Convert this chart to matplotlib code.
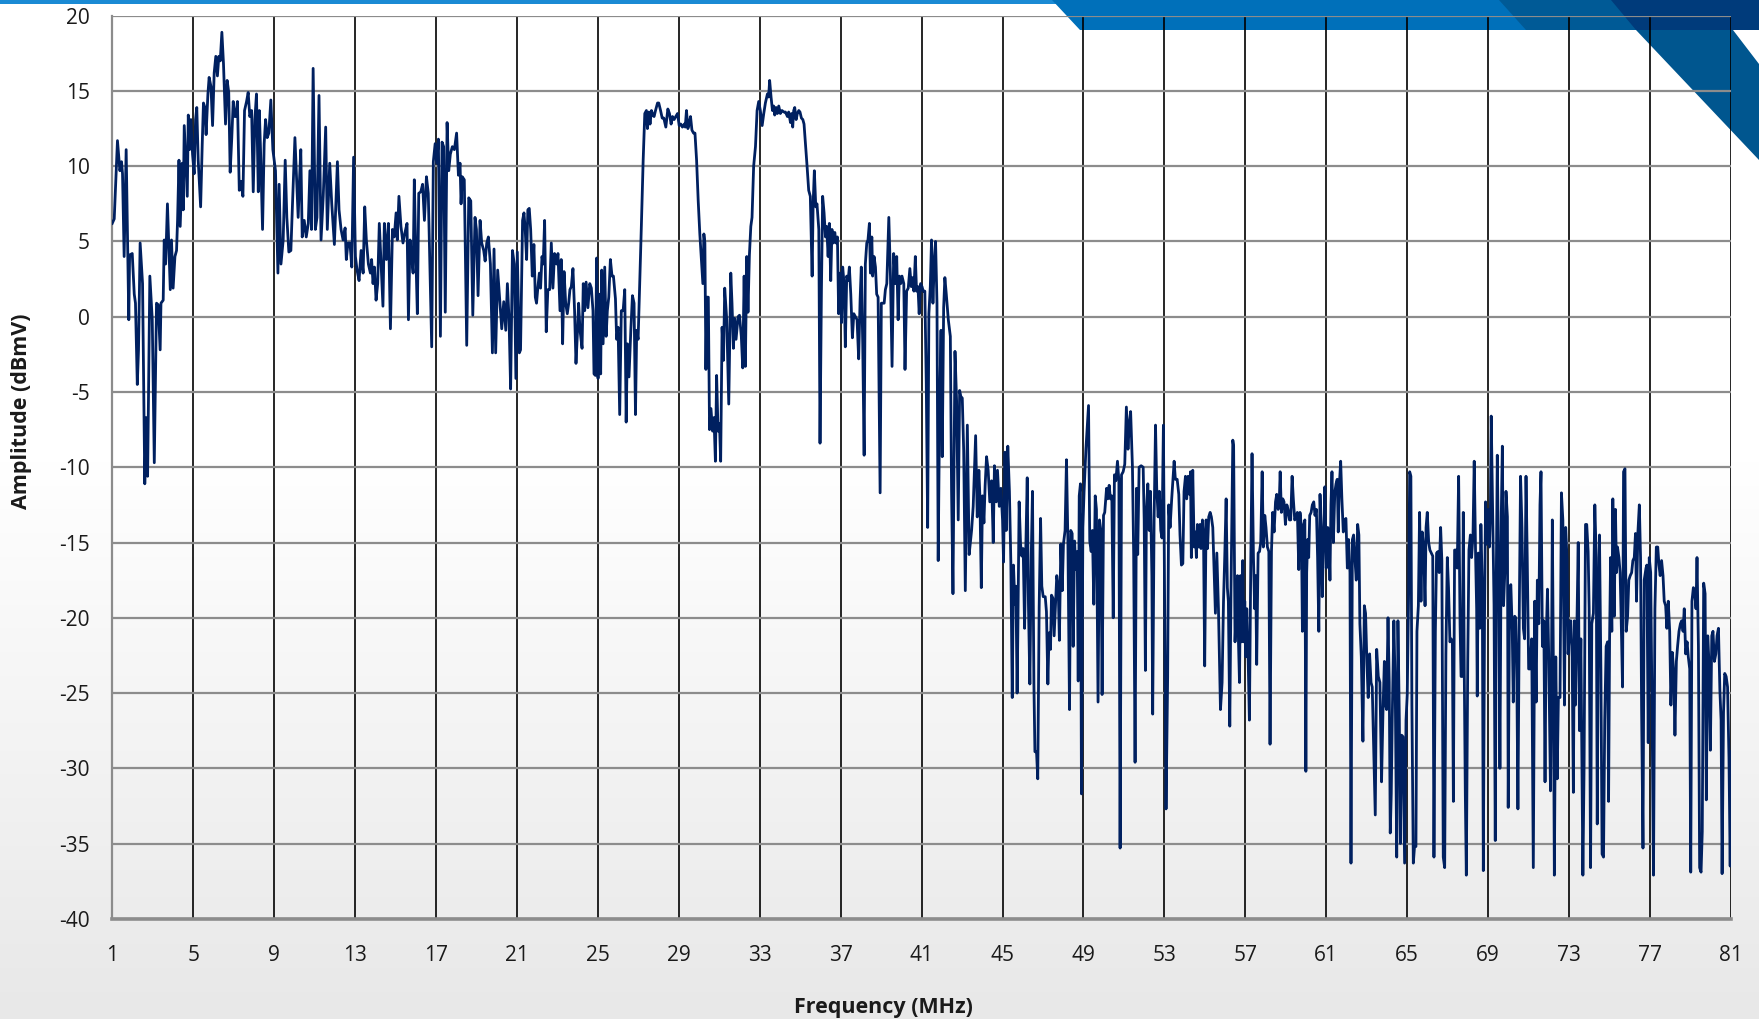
import numpy as np
import matplotlib
matplotlib.use("Agg")
import matplotlib.pyplot as plt
from matplotlib.patches import Polygon
from matplotlib.colors import LinearSegmentedColormap

plt.rcParams['font.family'] = ['Open Sans', 'DejaVu Sans']
plt.rcParams['axes.unicode_minus'] = False

# spectrum, (MHz, dBmV), one list per stretch of the band
seg_01_11 = [
    (1.0, 6.2), (1.1, 6.5), (1.26, 11.7), (1.38, 9.7), (1.46, 10.3), (1.51, 9.5), (1.59, 4.0), (1.69, 11.1),
    (1.82, -0.2), (1.86, 4.1), (1.99, 4.2), (2.09, 1.5), (2.15, 0.9), (2.24, -4.5), (2.30, -2.2), (2.38, 4.9),
    (2.50, 2.2), (2.61, -11.1), (2.68, -6.7), (2.75, -10.6), (2.86, 2.7), (2.98, -0.2), (3.08, -9.7), (3.19, 0.9),
    (3.27, 0.8), (3.37, -2.2), (3.41, 0.9), (3.52, 1.1), (3.57, 5.1), (3.64, 3.5), (3.73, 7.5), (3.87, 1.8),
    (3.93, 5.1), (4.01, 1.9), (4.10, 4.0), (4.18, 4.4), (4.23, 6.4), (4.30, 10.4), (4.36, 6.0), (4.46, 10.2),
    (4.51, 7.1), (4.56, 12.7), (4.64, 10.2), (4.71, 8.0), (4.76, 13.4), (4.82, 11.1), (4.89, 13.1), (4.97, 10.8),
    (5.05, 9.5), (5.12, 13.1), (5.18, 13.9), (5.25, 10.4), (5.37, 7.3), (5.45, 11.5), (5.51, 14.2), (5.58, 13.9),
    (5.64, 12.1), (5.73, 14.8), (5.79, 15.9), (5.88, 15.3), (5.96, 12.7), (6.04, 16.2), (6.12, 17.3), (6.20, 16.0),
    (6.27, 17.3), (6.34, 17.0), (6.42, 18.9), (6.50, 16.8), (6.60, 12.8), (6.68, 15.7), (6.76, 14.9), (6.83, 9.6),
    (6.91, 11.9), (6.98, 14.3), (7.05, 13.3), (7.11, 13.3), (7.19, 14.3), (7.28, 8.4), (7.36, 9.0), (7.46, 8.0),
    (7.54, 13.7), (7.64, 14.3), (7.72, 14.9), (7.80, 13.3), (7.89, 13.7), (7.97, 8.3), (8.05, 13.1), (8.13, 14.8),
    (8.22, 8.3), (8.27, 13.7), (8.33, 11.1), (8.43, 5.8), (8.51, 11.5), (8.58, 13.1), (8.66, 11.9), (8.74, 12.2),
    (8.84, 14.4), (8.94, 11.1), (9.07, 9.7), (9.19, 2.9), (9.25, 8.8), (9.34, 3.5), (9.45, 5.1), (9.55, 10.4),
    (9.63, 6.6), (9.73, 4.3), (9.83, 4.4), (9.91, 7.5), (10.03, 11.9), (10.11, 9.3), (10.19, 6.6), (10.26, 9.2),
    (10.32, 11.1), (10.39, 5.3), (10.49, 6.4), (10.59, 5.3), (10.69, 6.2), (10.77, 9.7), (10.85, 5.8), (10.93, 16.5),
]
seg_11_21 = [
    (11.04, 5.8), (11.12, 6.6), (11.22, 14.7), (11.32, 5.1), (11.43, 8.0), (11.55, 12.6), (11.63, 5.8), (11.75, 10.2),
    (11.85, 7.5), (11.98, 4.8), (12.13, 10.3), (12.21, 7.1), (12.31, 5.8), (12.41, 5.1), (12.51, 5.9), (12.57, 3.8),
    (12.65, 4.9), (12.75, 4.9), (12.84, 3.3), (12.93, 10.6), (13.02, 4.0), (13.10, 3.1), (13.20, 2.4), (13.30, 4.4),
    (13.40, 2.9), (13.48, 7.3), (13.56, 5.1), (13.66, 3.5), (13.76, 2.9), (13.82, 3.8), (13.89, 2.2), (13.96, 3.3),
    (14.04, 1.1), (14.12, 2.2), (14.20, 6.2), (14.29, 3.5), (14.38, 0.7), (14.45, 6.2), (14.55, 3.8), (14.65, 6.2),
    (14.75, -0.8), (14.85, 5.8), (14.94, 5.3), (15.03, 6.9), (15.09, 5.1), (15.17, 8.0), (15.27, 6.0), (15.37, 4.9),
    (15.47, 5.6), (15.57, 6.2), (15.64, -0.2), (15.72, 5.1), (15.80, 4.0), (15.87, 2.9), (15.93, 9.1), (16.00, 4.4),
    (16.08, 0.2), (16.15, 8.2), (16.25, 8.3), (16.34, 8.8), (16.43, 6.4), (16.53, 9.3), (16.62, 8.2), (16.71, 2.7),
    (16.79, -2.0), (16.87, 10.3), (16.96, 11.5), (17.04, 10.2), (17.12, 11.8), (17.22, -1.3), (17.30, 11.6),
    (17.38, 11.3), (17.46, 0.3), (17.55, 12.9), (17.63, 9.7), (17.71, 10.8), (17.81, 11.3), (17.91, 11.1),
    (18.02, 12.2), (18.11, 9.4), (18.19, 10.2), (18.24, 7.5), (18.30, 9.3), (18.40, 9.1), (18.52, -1.9), (18.62, 7.9),
    (18.72, 7.7), (18.82, 0.1), (18.93, 6.6), (19.00, 5.8), (19.08, 1.4), (19.18, 6.4), (19.26, 4.9), (19.36, 4.4),
    (19.43, 3.7), (19.51, 4.9), (19.59, 5.3), (19.69, 3.5), (19.79, -2.4), (19.87, 4.5), (19.95, -2.4), (20.05, 3.1),
    (20.15, 1.1), (20.25, -0.8), (20.35, 1.0), (20.45, -0.9), (20.53, 2.2), (20.61, -0.1), (20.69, -4.8),
    (20.78, 4.4), (20.87, 3.5),
]
seg_21_31 = [
    (20.95, -4.1), (21.02, 4.3), (21.12, -2.4), (21.18, -2.2), (21.28, 6.4), (21.35, 6.9), (21.41, 5.8), (21.48, 3.8),
    (21.54, 7.1), (21.61, 7.2), (21.68, 5.8), (21.76, 2.7), (21.84, 4.8), (21.91, 1.3), (21.97, 0.9), (22.04, 2.0),
    (22.11, 2.9), (22.17, 1.9), (22.24, 4.0), (22.30, 3.5), (22.37, 6.4), (22.45, -1.0), (22.53, 1.8), (22.62, 1.8),
    (22.70, 4.9), (22.78, 1.9), (22.86, 4.2), (22.96, 3.5), (23.03, 4.2), (23.13, 0.4), (23.19, 3.8), (23.26, -1.8),
    (23.33, 3.0), (23.41, 0.9), (23.49, 0.2), (23.56, 0.9), (23.62, 1.8), (23.69, 2.0), (23.77, 3.2), (23.85, 0.4),
    (23.92, -3.1), (23.99, -1.1), (24.05, 0.9), (24.12, -0.9), (24.22, -2.1), (24.28, 2.2), (24.35, 0.4), (24.42, 2.3),
    (24.51, 0.6), (24.60, 2.2), (24.68, 1.9), (24.76, 0.4), (24.81, -3.8), (24.88, -3.9), (24.94, 3.9), (25.01, -4.1),
    (25.08, 1.5), (25.14, -3.8), (25.19, 3.1), (25.26, -1.8), (25.34, 3.3), (25.41, -1.3), (25.47, 0.4), (25.54, 1.3),
    (25.62, 3.8), (25.70, 2.7), (25.77, 2.7), (25.87, 1.2), (25.93, -1.5), (26.00, -0.7), (26.08, -6.5), (26.16, 0.4),
    (26.25, 0.4), (26.33, 1.8), (26.40, -7.0), (26.46, -1.8), (26.54, -4.0), (26.63, -0.9), (26.71, 1.4), (26.79, 0.9),
    (26.86, -6.5), (26.92, -0.9), (26.99, -1.5), (27.07, 2.2), (27.15, 6.0), (27.24, 10.4), (27.32, 13.5),
    (27.40, 13.7), (27.45, 12.5), (27.52, 13.6), (27.58, 12.8), (27.65, 13.7), (27.72, 13.4), (27.78, 13.3),
    (27.85, 13.7), (27.95, 14.2), (28.01, 14.2), (28.10, 13.7), (28.18, 13.2), (28.26, 13.2), (28.36, 12.6),
    (28.46, 13.8), (28.54, 13.5), (28.62, 12.8), (28.69, 13.3), (28.77, 13.1), (28.85, 13.3), (28.94, 13.5),
    (29.02, 12.7), (29.10, 12.8), (29.18, 12.6), (29.27, 12.8), (29.32, 12.6), (29.38, 13.7), (29.45, 12.5),
    (29.51, 12.8), (29.58, 13.3), (29.65, 12.4), (29.73, 12.2), (29.80, 12.2), (29.88, 10.4), (29.96, 7.7),
    (30.04, 5.5), (30.13, 3.5), (30.19, 2.2), (30.24, 5.5), (30.29, 4.9), (30.34, -3.5), (30.39, 1.3), (30.46, 1.3),
    (30.52, -7.5), (30.59, -6.1), (30.67, -7.6), (30.74, -6.7),
]
seg_31_40 = [
    (30.81, -9.6), (30.87, -3.9), (30.94, -7.6), (31.01, -7.1), (31.07, -9.6), (31.14, -0.7), (31.21, -2.9),
    (31.27, 1.9), (31.37, -0.2), (31.47, -5.8), (31.57, 2.9), (31.63, 0.9), (31.70, -2.1), (31.76, -0.1),
    (31.83, -1.5), (31.93, 0.0), (32.00, 0.1), (32.09, -1.3), (32.16, -3.4), (32.23, 2.7), (32.29, -3.3),
    (32.36, 4.0), (32.42, 0.3), (32.49, 4.1), (32.56, 6.0), (32.62, 6.6), (32.70, 10.0), (32.79, 11.3),
    (32.87, 13.7), (32.95, 14.3), (33.03, 13.7), (33.12, 12.7), (33.20, 13.5), (33.28, 14.2), (33.38, 14.8),
    (33.44, 14.6), (33.49, 15.7), (33.56, 14.6), (33.63, 13.7), (33.69, 14.0), (33.74, 13.4), (33.81, 13.9),
    (33.87, 13.5), (33.94, 14.0), (34.02, 13.5), (34.10, 13.7), (34.19, 13.6), (34.27, 13.6), (34.37, 13.3),
    (34.43, 13.6), (34.52, 12.9), (34.57, 13.5), (34.63, 12.6), (34.68, 13.7), (34.73, 13.9), (34.80, 13.1),
    (34.86, 13.5), (34.93, 13.7), (34.99, 13.6), (35.06, 13.2), (35.13, 13.1), (35.19, 12.8), (35.26, 11.5),
    (35.34, 10.0), (35.42, 8.4), (35.50, 8.0), (35.59, 2.7), (35.64, 7.5), (35.70, 9.7), (35.77, 7.3),
    (35.83, 7.5), (35.92, 5.8), (35.98, -8.4), (36.05, 1.8), (36.11, 8.0), (36.18, 6.9), (36.25, 5.3),
    (36.31, 6.0), (36.38, 4.0), (36.44, 6.2), (36.51, 2.4), (36.57, 5.8), (36.64, 4.9), (36.71, 5.6),
    (36.77, 4.9), (36.84, 5.3), (36.90, 0.2), (36.97, 2.9), (37.04, -0.4), (37.10, 3.3), (37.17, 2.2),
    (37.23, -2.0), (37.30, 2.7), (37.37, 2.4), (37.43, 3.3), (37.50, 1.5), (37.58, -1.4), (37.65, 0.2),
    (37.73, 0.0), (37.81, -0.2), (37.89, -2.8), (37.96, 1.1), (38.02, 3.3), (38.09, -1.8), (38.16, -9.2),
    (38.22, 3.5), (38.29, 4.9), (38.35, 5.1), (38.42, 6.2), (38.47, 2.9), (38.54, 5.3), (38.58, 2.7),
    (38.65, 4.0), (38.72, 3.3), (38.78, 1.5), (38.85, 1.3), (38.95, -11.7), (39.01, 0.9), (39.08, 0.9),
    (39.15, 0.9), (39.21, 1.8), (39.28, 2.2), (39.38, 6.6), (39.46, 2.7), (39.54, -3.3), (39.62, 4.2),
    (39.71, 2.2), (39.77, 4.0), (39.84, -0.2), (39.90, 2.7), (39.97, 2.2), (40.03, 2.7), (40.12, 2.2),
]
seg_40_43 = [
    (40.18, -3.5), (40.26, 1.7), (40.34, 1.9), (40.42, 3.2), (40.49, 2.0), (40.56, 2.6), (40.62, 1.7), (40.69, 4.0),
    (40.75, 1.7), (40.82, 2.0), (40.88, 0.2), (40.95, 2.2), (41.02, 2.0), (41.08, 1.7), (41.16, 1.7), (41.23, -4.4),
    (41.30, -14.0), (41.36, 0.2), (41.43, 2.0), (41.49, 5.1), (41.56, 0.9), (41.63, 3.7), (41.69, 5.0), (41.76, 0.9),
    (41.82, -16.2), (41.89, -6.0), (41.96, -0.9), (42.02, -9.3), (42.09, 0.6), (42.15, 2.6), (42.22, 1.5),
    (42.32, -0.2), (42.42, -1.3), (42.48, -11.5), (42.55, -18.4), (42.65, -2.3), (42.73, -5.6), (42.81, -13.5),
    (42.88, -4.9), (42.94, -5.3), (43.01, -5.4), (43.08, -8.9), (43.16, -18.2),
]
seg_43_53 = [
    (43.26, -7.2), (43.35, -15.8), (43.47, -14.2), (43.55, -12.6), (43.67, -7.9), (43.75, -13.3), (43.83, -10.2),
    (43.88, -11.9), (43.95, -18.0), (44.01, -11.9), (44.08, -13.7), (44.14, -11.2), (44.21, -9.3), (44.29, -10.2),
    (44.37, -12.3), (44.46, -10.9), (44.54, -15.0), (44.60, -9.9), (44.69, -12.3), (44.75, -10.2), (44.84, -12.6),
    (44.92, -11.4), (45.00, -13.5), (45.05, -16.3), (45.12, -9.0), (45.18, -14.2), (45.26, -8.6), (45.34, -11.6),
    (45.41, -16.3), (45.48, -25.3), (45.54, -16.5), (45.61, -19.1), (45.66, -17.9), (45.72, -25.0), (45.76, -20.5),
    (45.82, -12.3), (45.89, -15.1), (45.95, -15.9), (46.02, -15.4), (46.09, -20.7), (46.15, -15.4), (46.22, -10.7),
    (46.28, -19.1), (46.35, -24.4), (46.42, -15.8), (46.48, -11.6), (46.55, -24.4), (46.60, -28.9), (46.68, -28.9),
    (46.74, -30.7), (46.81, -19.3), (46.88, -13.4), (46.94, -17.9), (47.01, -18.6), (47.11, -18.6), (47.17, -19.6),
    (47.24, -24.4), (47.30, -21.0), (47.37, -22.1), (47.42, -18.5), (47.49, -18.7), (47.55, -21.2), (47.62, -19.1),
    (47.68, -17.2), (47.75, -17.9), (47.81, -21.5), (47.88, -15.1), (47.95, -18.2), (48.01, -15.1), (48.09, -14.2),
    (48.16, -9.5), (48.23, -14.9), (48.31, -26.1), (48.37, -14.2), (48.44, -14.4), (48.49, -21.9), (48.56, -14.9),
    (48.62, -16.8), (48.69, -15.6), (48.74, -24.2), (48.79, -11.9), (48.85, -11.1), (48.90, -31.7), (48.97, -14.0),
    (49.03, -11.6), (49.12, -8.8), (49.25, -5.9), (49.31, -14.9), (49.38, -15.6), (49.44, -14.2), (49.51, -19.1),
    (49.58, -11.9), (49.64, -12.8), (49.72, -25.6), (49.79, -13.5), (49.86, -14.2), (49.92, -25.1), (49.99, -13.2),
    (50.05, -13.0), (50.14, -11.4), (50.20, -12.1), (50.27, -11.2), (50.33, -12.1), (50.40, -11.9), (50.47, -20.0),
    (50.53, -10.5), (50.60, -10.9), (50.68, -9.6), (50.75, -10.9), (50.81, -35.3), (50.88, -10.5), (50.96, -10.3),
    (51.04, -9.8), (51.12, -6.0), (51.20, -8.8), (51.27, -7.0), (51.33, -6.3), (51.42, -10.0), (51.48, -15.8),
    (51.55, -29.6), (51.62, -11.4), (51.68, -15.8), (51.75, -10.0), (51.85, -9.9), (51.95, -10.0), (52.00, -13.5),
    (52.06, -23.5), (52.11, -13.0), (52.18, -11.1), (52.25, -14.2), (52.31, -11.6), (52.38, -17.2), (52.42, -26.4),
    (52.49, -13.5), (52.56, -7.2), (52.62, -11.4), (52.69, -13.3), (52.75, -11.6), (52.82, -14.2), (52.88, -14.7),
    (52.95, -7.2),
]
seg_53_61 = [
    (53.08, -32.7), (53.16, -23.9), (53.21, -12.5), (53.28, -14.0), (53.36, -12.1), (53.48, -9.6), (53.54, -10.8),
    (53.63, -10.8), (53.71, -11.8), (53.77, -14.5), (53.84, -16.5), (53.91, -16.4), (53.97, -11.6), (54.04, -10.6),
    (54.10, -12.1), (54.17, -10.6), (54.24, -11.8), (54.29, -10.3), (54.33, -16.0), (54.40, -10.2), (54.47, -15.3),
    (54.53, -14.3), (54.58, -16.0), (54.63, -13.8), (54.70, -15.3), (54.76, -13.8), (54.81, -15.4), (54.88, -13.5),
    (54.93, -14.3), (54.99, -23.2), (55.06, -13.5), (55.13, -15.4), (55.19, -13.3), (55.26, -13.0), (55.32, -13.3),
    (55.39, -14.0), (55.45, -16.7), (55.52, -19.7), (55.59, -15.7), (55.67, -19.4), (55.77, -26.1), (55.85, -24.3),
    (55.92, -18.9), (55.98, -16.0), (56.05, -12.1), (56.11, -18.0), (56.16, -18.9), (56.23, -27.2), (56.29, -18.2),
    (56.38, -8.2), (56.42, -8.6), (56.49, -21.6), (56.56, -18.9), (56.61, -17.2), (56.66, -21.6), (56.71, -24.3),
    (56.76, -17.2), (56.81, -21.6), (56.87, -16.2), (56.92, -21.6), (56.97, -18.9), (57.02, -22.6), (57.07, -19.4),
    (57.14, -22.9), (57.20, -26.8), (57.27, -16.0), (57.33, -9.1), (57.40, -16.0), (57.46, -19.4), (57.51, -17.2),
    (57.56, -23.1), (57.63, -15.7), (57.70, -15.6), (57.76, -15.0), (57.83, -10.3), (57.89, -15.3), (57.96, -13.2),
    (58.02, -14.0), (58.09, -15.3), (58.16, -15.6), (58.22, -28.4), (58.29, -15.6), (58.35, -13.0), (58.42, -14.3),
    (58.49, -12.3), (58.55, -11.8), (58.62, -12.8), (58.67, -12.5), (58.72, -10.3), (58.78, -13.0), (58.85, -12.1),
    (58.91, -12.3), (58.98, -13.8), (59.05, -12.5), (59.11, -12.8), (59.18, -13.5), (59.24, -13.5), (59.31, -10.6),
    (59.37, -12.1), (59.44, -13.5), (59.51, -13.3), (59.57, -13.0), (59.64, -16.8), (59.70, -13.0), (59.77, -14.0),
    (59.82, -20.9), (59.89, -13.8), (59.94, -13.5), (59.99, -30.2), (60.03, -17.0), (60.08, -14.8), (60.13, -16.0),
    (60.18, -13.2), (60.25, -13.0), (60.31, -12.5), (60.38, -12.3), (60.44, -13.2), (60.51, -12.8), (60.57, -16.0),
    (60.63, -20.9), (60.69, -11.8),
]
seg_61_71 = [
    (60.74, -14.0), (60.80, -18.6), (60.87, -14.3), (60.93, -11.3), (61.00, -16.7), (61.07, -14.0), (61.13, -14.5),
    (61.18, -17.5), (61.23, -12.5), (61.28, -10.3), (61.35, -15.0), (61.42, -11.7), (61.48, -11.1), (61.54, -10.8),
    (61.59, -14.3), (61.64, -11.3), (61.71, -9.6), (61.77, -12.1), (61.84, -14.3), (61.91, -13.5), (61.97, -13.4),
    (62.04, -16.7), (62.10, -14.8), (62.17, -17.0), (62.22, -36.3), (62.29, -14.8), (62.35, -14.5), (62.42, -16.2),
    (62.48, -17.5), (62.55, -13.8), (62.61, -14.5), (62.66, -20.4), (62.73, -22.6), (62.81, -28.2), (62.88, -19.2),
    (62.94, -19.7), (63.01, -23.1), (63.07, -25.3), (63.14, -22.4), (63.21, -24.3), (63.27, -24.6), (63.34, -28.5),
    (63.42, -33.1), (63.49, -22.1), (63.57, -23.9), (63.65, -24.3), (63.73, -30.9), (63.80, -26.3), (63.87, -22.9),
    (63.93, -25.8), (63.98, -26.1), (64.05, -20.0), (64.11, -24.3), (64.16, -34.3), (64.21, -31.7), (64.26, -26.6),
    (64.34, -20.2), (64.41, -25.1), (64.48, -35.9), (64.54, -20.2), (64.61, -26.8), (64.66, -35.0), (64.72, -27.8),
    (64.79, -27.9), (64.87, -36.3), (64.94, -26.8), (65.00, -25.1), (65.07, -18.2), (65.12, -10.3), (65.18, -10.6),
    (65.23, -25.8), (65.30, -36.3), (65.36, -35.2), (65.43, -35.2), (65.48, -20.9), (65.55, -19.2), (65.61, -13.0),
    (65.68, -18.9), (65.74, -14.3), (65.81, -15.3), (65.88, -19.2), (65.93, -14.0), (65.99, -13.0), (66.06, -15.0),
    (66.12, -15.5), (66.19, -15.7), (66.26, -15.9), (66.32, -35.9), (66.39, -20.9), (66.45, -15.7), (66.52, -15.6),
    (66.58, -17.0), (66.65, -14.0), (66.71, -16.2), (66.78, -35.9), (66.85, -36.6), (66.91, -22.4), (66.98, -16.0),
    (67.04, -18.0), (67.11, -21.6), (67.17, -21.4), (67.23, -21.6), (67.28, -32.2), (67.34, -15.5), (67.41, -15.5),
    (67.47, -16.7), (67.54, -10.6), (67.61, -20.4), (67.66, -23.9), (67.72, -23.9), (67.77, -13.0), (67.82, -23.9),
    (67.87, -31.7), (67.92, -37.1), (67.99, -22.9), (68.05, -15.5), (68.12, -14.5), (68.18, -16.0), (68.25, -14.5),
    (68.31, -9.6), (68.38, -16.0), (68.43, -19.4), (68.46, -25.2), (68.51, -15.7), (68.58, -20.7), (68.64, -13.8),
    (68.71, -18.0), (68.76, -36.8), (68.82, -19.9), (68.87, -12.3), (68.92, -15.1), (68.99, -12.8), (69.06, -15.3),
    (69.11, -12.8), (69.15, -6.6), (69.22, -12.8), (69.29, -19.2), (69.35, -34.8), (69.40, -17.5), (69.45, -9.2),
    (69.52, -17.0), (69.58, -30.0), (69.65, -13.0), (69.70, -8.6), (69.76, -19.2), (69.83, -16.7), (69.88, -11.6),
    (69.95, -13.3), (69.99, -32.6), (70.06, -18.0), (70.12, -17.8), (70.19, -20.9), (70.24, -25.6), (70.31, -19.9),
    (70.36, -20.0), (70.41, -22.9), (70.47, -32.7), (70.54, -19.2), (70.60, -10.6), (70.67, -14.0), (70.74, -20.7),
    (70.80, -21.4), (70.87, -10.6), (70.93, -16.0), (71.00, -23.4),
]
seg_71_81 = [
    (71.07, -23.4), (71.15, -21.4), (71.23, -36.6), (71.30, -18.9), (71.37, -25.6), (71.43, -17.5), (71.50, -20.4),
    (71.56, -12.5), (71.61, -10.3), (71.68, -21.9), (71.75, -20.2), (71.81, -30.9), (71.86, -21.9), (71.93, -18.1),
    (71.99, -22.4), (72.08, -31.5), (72.13, -23.1), (72.17, -13.5), (72.22, -22.9), (72.27, -37.1), (72.34, -22.6),
    (72.41, -30.7), (72.47, -25.3), (72.55, -25.3), (72.62, -11.7), (72.69, -13.5), (72.77, -25.8), (72.83, -14.0),
    (72.90, -16.2), (72.95, -22.4), (73.02, -20.9), (73.08, -20.2), (73.15, -22.6), (73.21, -31.6), (73.26, -20.2),
    (73.31, -25.8), (73.38, -20.9), (73.45, -15.0), (73.51, -27.5), (73.58, -21.4), (73.63, -29.5), (73.68, -37.1),
    (73.74, -29.8), (73.81, -13.8), (73.87, -13.8), (73.94, -15.6), (73.99, -19.4), (74.06, -36.6), (74.12, -20.4),
    (74.20, -19.7), (74.27, -12.5), (74.34, -16.0), (74.39, -33.7), (74.44, -20.9), (74.50, -14.5), (74.57, -23.4),
    (74.63, -35.7), (74.70, -35.9), (74.76, -26.8), (74.83, -21.9), (74.90, -21.6), (74.95, -32.2), (75.00, -21.4),
    (75.05, -16.0), (75.11, -20.9), (75.16, -12.1), (75.23, -19.9), (75.29, -12.8), (75.34, -17.0), (75.39, -15.3),
    (75.46, -16.0), (75.52, -17.0), (75.57, -19.9), (75.64, -24.6), (75.69, -10.3), (75.76, -10.1), (75.82, -20.9),
    (75.89, -19.9), (75.95, -17.5), (76.02, -17.2), (76.09, -17.0), (76.15, -16.2), (76.22, -16.0), (76.28, -14.4),
    (76.33, -18.9), (76.40, -14.3), (76.47, -12.5), (76.53, -16.0), (76.58, -25.8), (76.65, -35.3), (76.71, -17.5),
    (76.80, -16.7), (76.84, -16.5), (76.91, -28.3), (76.96, -16.0), (77.03, -17.0), (77.11, -27.8), (77.17, -37.1),
    (77.24, -19.4), (77.31, -15.3), (77.38, -15.3), (77.44, -16.5), (77.50, -17.2), (77.57, -16.2), (77.64, -17.2),
    (77.70, -18.9), (77.77, -19.2), (77.83, -20.7), (77.90, -18.9), (77.97, -20.9), (78.03, -25.8), (78.10, -22.3),
    (78.17, -23.6), (78.23, -27.8), (78.30, -22.9), (78.36, -21.9), (78.43, -20.9), (78.50, -20.4), (78.56, -20.2),
    (78.63, -20.9), (78.69, -19.4), (78.76, -22.4), (78.83, -21.6), (78.89, -22.6), (78.96, -23.4), (79.01, -36.9),
    (79.07, -18.9), (79.14, -18.0), (79.20, -18.2), (79.27, -19.4), (79.32, -16.0), (79.39, -21.9), (79.45, -36.6),
    (79.52, -36.9), (79.58, -34.2), (79.65, -17.7), (79.72, -18.4), (79.78, -32.1), (79.85, -21.2), (79.91, -22.9),
    (79.98, -28.8), (80.05, -21.2), (80.11, -20.9), (80.18, -22.9), (80.25, -22.4), (80.31, -21.2), (80.38, -20.7),
    (80.45, -24.8), (80.51, -26.8), (80.56, -37.0), (80.63, -26.3), (80.69, -23.7), (80.76, -23.9), (80.83, -24.6),
    (80.90, -29.3), (80.96, -36.5), (81.0, -28.9),
]

x_ticks = list(range(1, 82, 4))
y_ticks = list(range(-40, 21, 5))

points = seg_01_11 + seg_11_21 + seg_21_31 + seg_31_40 + seg_40_43 + seg_43_53 + seg_53_61 + seg_61_71 + seg_71_81
freq = np.array([p[0] for p in points])
amp = np.array([p[1] for p in points])

W, H = 1759, 1019
fig = plt.figure(figsize=(W / 100, H / 100), dpi=100)
fig.patch.set_facecolor('white')

# slide background: white fading to light grey, blue banner top right
bg = fig.add_axes([0, 0, 1, 1], zorder=-10)
bg.set_xlim(0, W)
bg.set_ylim(H, 0)
bg.axis('off')
ramp = np.clip((np.linspace(0, 1, 300) - 0.45) / 0.55, 0, 1)[:, None]
grey = LinearSegmentedColormap.from_list('page', ['#ffffff', '#e8e8e8'])
bg.imshow(ramp, extent=(0, W, H, 0), aspect='auto', cmap=grey, vmin=0, vmax=1)
bg.add_patch(Polygon([(0, 0), (W, 0), (W, 4), (0, 4)], closed=True, color='#1a8ad4', lw=0))
bg.add_patch(Polygon([(1052, 0), (W, 0), (W, 30), (1080, 30)], closed=True, color='#0070ba', lw=0))
bg.add_patch(Polygon([(1499, 0), (W, 0), (W, 30), (1526, 30)], closed=True, color='#005a96', lw=0))
bg.add_patch(Polygon([(1611, 0), (W, 0), (W, 30), (1636, 30)], closed=True, color='#003b7b', lw=0))
bg.add_patch(Polygon([(1636, 30), (1733, 30), (W, 64), (W, 160)], closed=True, color='#00568f', lw=0))

ax = fig.add_axes([112.2 / W, 1 - 918.8 / H, (1731 - 112.2) / W, (918.8 - 15.7) / H])
ax.set_facecolor('none')
ax.plot(freq, amp, color='#002060', lw=2.0, solid_joinstyle='round', zorder=3)
ax.set_xlim(1, 81)
ax.set_ylim(-40, 20)
ax.set_xticks(x_ticks)
ax.set_yticks(y_ticks)
ax.grid(axis='x', color='black', lw=1.2)
ax.grid(axis='y', color='#8c8c8c', lw=1.6)
ax.set_axisbelow(True)
for side in ['top', 'right']:
    ax.spines[side].set_visible(False)
ax.spines['left'].set_color('#8c8c8c')
ax.spines['left'].set_linewidth(1.6)
ax.spines['bottom'].set_color('#8c8c8c')
ax.spines['bottom'].set_linewidth(2.6)
ax.tick_params(axis='both', length=0, labelsize=15, labelcolor='#1a1a1a')
ax.tick_params(axis='y', pad=16)
ax.tick_params(axis='x', pad=19)

fig.text(22 / W, 1 - 411 / H, 'Amplitude (dBmV)', rotation=90, fontsize=15.5, fontweight='bold',
         ha='center', va='center', color='#1a1a1a')
fig.text(883 / W, 1 - 1007 / H, 'Frequency (MHz)', fontsize=15.5, fontweight='bold',
         ha='center', va='center', color='#1a1a1a')

fig.savefig('out.png', dpi=100)
